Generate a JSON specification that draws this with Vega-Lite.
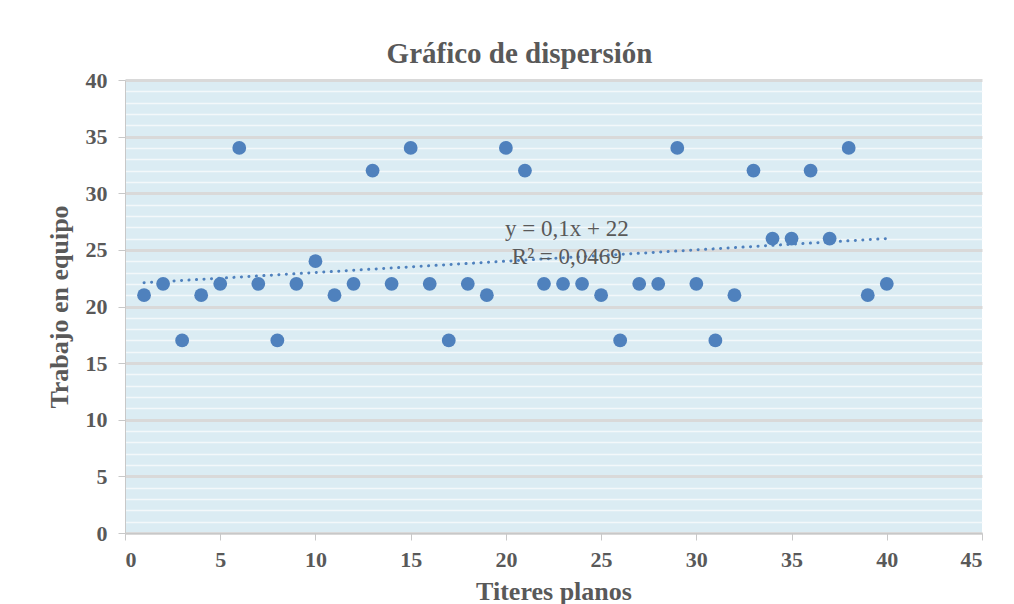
{
  "$schema": "https://vega.github.io/schema/vega-lite/v6.json",
  "autosize": "none",
  "width": 857,
  "height": 453,
  "padding": {"left": 125, "top": 80, "right": 32, "bottom": 71},
  "background": "white",
  "title": {
    "text": "Gráfico de dispersión",
    "font": "Liberation Serif",
    "fontSize": 29,
    "fontWeight": "bold",
    "color": "#595959",
    "anchor": "middle",
    "dx": -34,
    "offset": 0
  },
  "config": {
    "view": {"fill": "#dbecf3", "stroke": null},
    "axis": {
      "labelFont": "Liberation Serif",
      "labelFontSize": 22,
      "labelFontWeight": "bold",
      "labelColor": "#595959",
      "labelOverlap": false,
      "titleFont": "Liberation Serif",
      "titleFontSize": 26,
      "titleFontWeight": "bold",
      "titleColor": "#595959",
      "domainColor": "#c8c8c8",
      "tickColor": "#c8c8c8"
    }
  },
  "resolve": {"axis": {"y": "independent"}},
  "datasets": {
    "pts": [
      {"x": 1, "y": 21}, {"x": 2, "y": 22}, {"x": 3, "y": 17}, {"x": 4, "y": 21},
      {"x": 5, "y": 22}, {"x": 6, "y": 34}, {"x": 7, "y": 22}, {"x": 8, "y": 17},
      {"x": 9, "y": 22}, {"x": 10, "y": 24}, {"x": 11, "y": 21}, {"x": 12, "y": 22},
      {"x": 13, "y": 32}, {"x": 14, "y": 22}, {"x": 15, "y": 34}, {"x": 16, "y": 22},
      {"x": 17, "y": 17}, {"x": 18, "y": 22}, {"x": 19, "y": 21}, {"x": 20, "y": 34},
      {"x": 21, "y": 32}, {"x": 22, "y": 22}, {"x": 23, "y": 22}, {"x": 24, "y": 22},
      {"x": 25, "y": 21}, {"x": 26, "y": 17}, {"x": 27, "y": 22}, {"x": 28, "y": 22},
      {"x": 29, "y": 34}, {"x": 30, "y": 22}, {"x": 31, "y": 17}, {"x": 32, "y": 21},
      {"x": 33, "y": 32}, {"x": 34, "y": 26}, {"x": 35, "y": 26}, {"x": 36, "y": 32},
      {"x": 37, "y": 26}, {"x": 38, "y": 34}, {"x": 39, "y": 21}, {"x": 40, "y": 22}
    ],
    "labels": [
      {"x": 23.2, "y": 26.8, "label": "y = 0,1x + 22"},
      {"x": 23.2, "y": 24.4, "label": "R² = 0,0469"}
    ]
  },
  "layer": [
    {
      "data": {"name": "pts"},
      "transform": [{"regression": "y", "on": "x", "extent": [1, 40]}],
      "mark": {"type": "line", "color": "#4f81bd", "strokeWidth": 3, "strokeDash": [0.1, 7.4], "strokeCap": "round"},
      "encoding": {
        "x": {"field": "x", "type": "quantitative", "scale": {"domain": [0, 45], "nice": false}},
        "y": {
          "field": "y", "type": "quantitative",
          "scale": {"domain": [0, 40], "nice": false},
          "axis": {
            "orient": "left",
            "title": null,
            "labels": false,
            "ticks": false,
            "domain": false,
            "grid": true,
            "gridColor": "#f3f8fa",
            "gridWidth": 1.5,
            "values": [1,2,3,4,6,7,8,9,11,12,13,14,16,17,18,19,21,22,23,24,26,27,28,29,31,32,33,34,36,37,38,39]
          }
        }
      }
    },
    {
      "data": {"name": "pts"},
      "mark": {"type": "circle", "size": 190, "color": "#4f81bd", "opacity": 1},
      "encoding": {
        "x": {
          "field": "x", "type": "quantitative",
          "scale": {"domain": [0, 45], "nice": false},
          "axis": {
            "title": "Titeres planos",
            "values": [0, 5, 10, 15, 20, 25, 30, 35, 40, 45],
            "grid": false,
            "tickSize": 7,
            "labelPadding": 9,
            "titleY": 45
          }
        },
        "y": {
          "field": "y", "type": "quantitative",
          "scale": {"domain": [0, 40], "nice": false},
          "axis": {
            "orient": "left",
            "title": "Trabajo en equipo",
            "values": [0, 5, 10, 15, 20, 25, 30, 35, 40],
            "grid": true,
            "gridColor": "#d9d9d9",
            "gridWidth": 3,
            "tickSize": 7,
            "labelPadding": 11,
            "titleX": -53
          }
        }
      }
    },
    {
      "data": {"name": "labels"},
      "mark": {"type": "text", "font": "Liberation Serif", "fontSize": 23, "color": "#595959", "align": "center", "baseline": "middle"},
      "encoding": {
        "x": {"field": "x", "type": "quantitative"},
        "y": {"field": "y", "type": "quantitative", "axis": null},
        "text": {"field": "label"}
      }
    }
  ]
}
